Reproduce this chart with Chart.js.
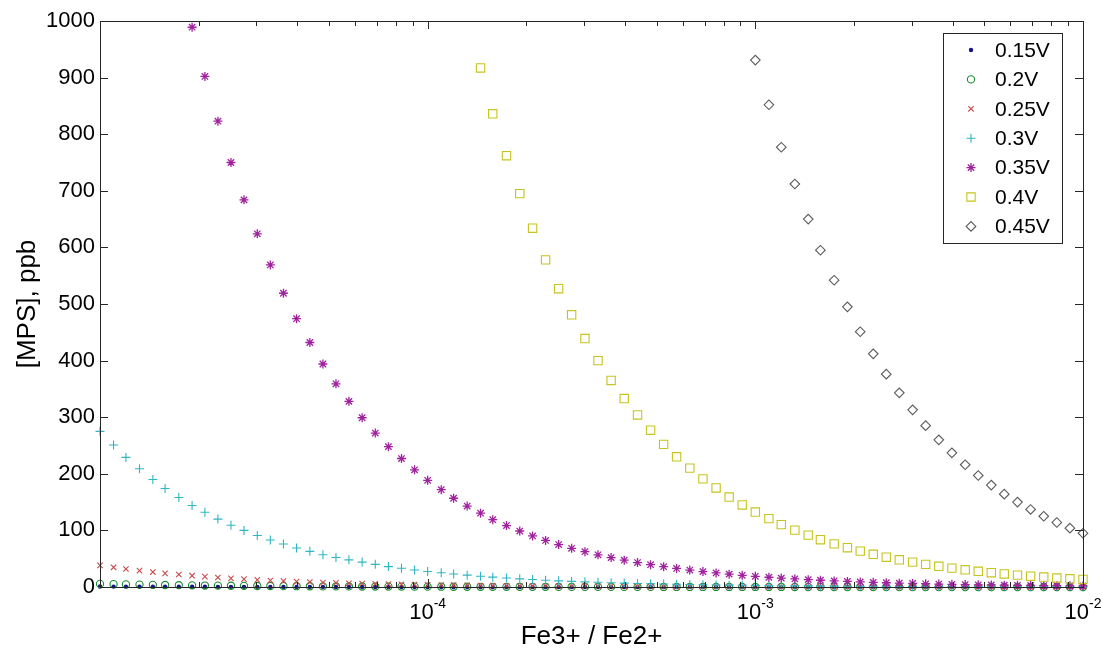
<!DOCTYPE html>
<html>
<head>
<meta charset="utf-8">
<title>[MPS] vs Fe3+ / Fe2+</title>
<script src="https://cdn.jsdelivr.net/npm/chart.js@4.4.1/dist/chart.umd.min.js"></script>
<style>
  html, body { margin: 0; padding: 0; background: #fff; }
  canvas { display: block; }
</style>
</head>
<body>
<canvas id="mpsChart" width="1102" height="652"></canvas>
<script>
// Fe3+ / Fe2+ ratio (x axis, log scale)
const ratios = [
  1.00e-5, 1.10e-5, 1.20e-5, 1.32e-5, 1.45e-5, 1.58e-5, 1.74e-5, 1.91e-5, 2.09e-5, 2.29e-5, 2.51e-5, 2.75e-5, 3.02e-5,
  3.31e-5, 3.63e-5, 3.98e-5, 4.37e-5, 4.79e-5, 5.25e-5, 5.75e-5, 6.31e-5, 6.92e-5, 7.59e-5, 8.32e-5, 9.12e-5,
  1.00e-4, 1.10e-4, 1.20e-4, 1.32e-4, 1.45e-4, 1.58e-4, 1.74e-4, 1.91e-4, 2.09e-4, 2.29e-4, 2.51e-4, 2.75e-4, 3.02e-4,
  3.31e-4, 3.63e-4, 3.98e-4, 4.37e-4, 4.79e-4, 5.25e-4, 5.75e-4, 6.31e-4, 6.92e-4, 7.59e-4, 8.32e-4, 9.12e-4,
  1.00e-3, 1.10e-3, 1.20e-3, 1.32e-3, 1.45e-3, 1.58e-3, 1.74e-3, 1.91e-3, 2.09e-3, 2.29e-3, 2.51e-3, 2.75e-3, 3.02e-3,
  3.31e-3, 3.63e-3, 3.98e-3, 4.37e-3, 4.79e-3, 5.25e-3, 5.75e-3, 6.31e-3, 6.92e-3, 7.59e-3, 8.32e-3, 9.12e-3,
  1.00e-2
];

const seriesLabels = ['0.15V', '0.2V', '0.25V', '0.3V', '0.35V', '0.4V', '0.45V'];

// [MPS] in ppb (null = above the 1000 ppb limit)
const mps015 = [
  0.8, 0.7, 0.6, 0.6, 0.5, 0.5, 0.4, 0.4, 0.4, 0.3, 0.3, 0.3, 0.3, 0.2, 0.2, 0.2, 0.2, 0.2, 0.1, 0.1, 0.1, 0.1, 0.1, 0.1, 0.1,
  0.08, 0.07, 0.06, 0.06, 0.05, 0.05, 0.04, 0.04, 0.04, 0.03, 0.03, 0.03, 0.03, 0.02, 0.02, 0.02, 0.02, 0.02, 0.01, 0.01, 0.01, 0.01, 0.01, 0.01, 0.01,
  0.01, 0.01, 0.01, 0.01, 0.01, 0, 0, 0, 0, 0, 0, 0, 0, 0, 0, 0, 0, 0, 0, 0, 0, 0, 0, 0, 0, 0
];
const mps020 = [
  5.5, 5.0, 4.6, 4.2, 3.8, 3.5, 3.2, 2.9, 2.6, 2.4, 2.2, 2.0, 1.8, 1.7, 1.5, 1.4, 1.3, 1.1, 1.0, 1.0, 0.9, 0.8, 0.7, 0.7, 0.6,
  0.55, 0.5, 0.46, 0.42, 0.38, 0.35, 0.32, 0.29, 0.26, 0.24, 0.22, 0.2, 0.18, 0.17, 0.15, 0.14, 0.13, 0.11, 0.1, 0.1, 0.09, 0.08, 0.07, 0.07, 0.06,
  0.06, 0.05, 0.05, 0.04, 0.04, 0.03, 0.03, 0.03, 0.03, 0.02, 0.02, 0.02, 0.02, 0.02, 0.02, 0.01, 0.01, 0.01, 0.01, 0.01, 0.01, 0.01, 0.01, 0.01, 0.01, 0.01
];
const mps025 = [
  38.2, 34.8, 31.8, 29.0, 26.4, 24.1, 22.0, 20.0, 18.3, 16.7, 15.2, 13.9, 12.6, 11.5, 10.5, 9.6, 8.8, 8.0, 7.3, 6.6, 6.1, 5.5, 5.0, 4.6, 4.2,
  3.8, 3.5, 3.2, 2.9, 2.6, 2.4, 2.2, 2.0, 1.8, 1.7, 1.5, 1.4, 1.3, 1.2, 1.1, 1.0, 0.9, 0.8, 0.7, 0.7, 0.6, 0.6, 0.5, 0.5, 0.4,
  0.38, 0.35, 0.32, 0.29, 0.26, 0.24, 0.22, 0.2, 0.18, 0.17, 0.15, 0.14, 0.13, 0.12, 0.11, 0.1, 0.09, 0.08, 0.07, 0.07, 0.06, 0.06, 0.05, 0.05, 0.04, 0.04
];
const mps030 = [
  275, 251, 229, 209, 190, 174, 158, 144, 132, 120, 109, 100, 91, 83, 76, 69, 63, 57, 52, 48, 44, 40, 36, 33, 30,
  27.5, 25.1, 22.9, 20.9, 19.0, 17.4, 15.8, 14.4, 13.2, 12.0, 10.9, 10.0, 9.1, 8.3, 7.6, 6.9, 6.3, 5.7, 5.2, 4.8, 4.4, 4.0, 3.6, 3.3, 3.0,
  2.8, 2.5, 2.3, 2.1, 1.9, 1.7, 1.6, 1.4, 1.3, 1.2, 1.1, 1.0, 0.9, 0.8, 0.8, 0.7, 0.6, 0.6, 0.5, 0.5, 0.4, 0.4, 0.4, 0.3, 0.3, 0.3
];
const mps035 = [
  null, null, null, null, null, null, null, 989, 902, 823, 750, 684, 624, 569, 519, 474, 432, 394, 359, 328, 299, 272, 248, 227, 207,
  188.5, 171.9, 156.8, 143.0, 130.4, 118.9, 108.5, 98.9, 90.2, 82.3, 75.0, 68.4, 62.4, 56.9, 51.9, 47.4, 43.2, 39.4, 35.9, 32.8, 29.9, 27.2, 24.8, 22.7, 20.7,
  18.9, 17.2, 15.7, 14.3, 13.0, 11.9, 10.8, 9.9, 9.0, 8.2, 7.5, 6.8, 6.2, 5.7, 5.2, 4.7, 4.3, 3.9, 3.6, 3.3, 3.0, 2.7, 2.5, 2.3, 2.1, 1.9
];
const mps040 = [
  null, null, null, null, null, null, null, null, null, null, null, null, null, null, null, null, null, null, null, null, null, null, null, null, null,
  null, null, null, null, 917, 836, 762, 695, 634, 578, 527, 481, 439, 400, 365, 333, 304, 277, 252, 230, 210, 191, 175, 159, 145,
  132.5, 120.8, 110.2, 100.5, 91.7, 83.6, 76.2, 69.5, 63.4, 57.8, 52.7, 48.1, 43.9, 40.0, 36.5, 33.3, 30.4, 27.7, 25.2, 23.0, 21.0, 19.1, 17.5, 15.9, 14.5, 13.3
];
const mps045 = [
  null, null, null, null, null, null, null, null, null, null, null, null, null, null, null, null, null, null, null, null, null, null, null, null, null,
  null, null, null, null, null, null, null, null, null, null, null, null, null, null, null, null, null, null, null, null, null, null, null, null, null,
  931, 852, 777, 712, 650, 595, 542, 495, 451, 412, 376, 343, 313, 285, 260, 237, 216, 197, 180, 164, 150, 137, 125, 114, 104, 95
];

const seriesValues = [mps015, mps020, mps025, mps030, mps035, mps040, mps045];

// axis settings
const xMin = 1e-5, xMax = 1e-2;
const xTickExponents = [-4, -3, -2];
const yMin = 0, yMax = 1000, yStep = 100;

// MATLAB style markers
const markerColors = ['#14148c', '#178a2a', '#c84a4a', '#2fb6c2', '#a0229e', '#c6c41e', '#5a5a5a'];
const markerStyles = ['circle', 'circle', 'crossRot', 'cross', 'star', 'rect', 'rectRot'];
const markerSizes = [2.2, 3.6, 3.8, 4.5, 4.5, 5.9, 4.8];

const FONT = '"Liberation Sans", Arial, Helvetica, sans-serif';
const AXIS_COLOR = '#262626';

const datasets = seriesLabels.map((label, i) => ({
    label: label,
    data: ratios.map((r, j) => ({ x: r, y: seriesValues[i][j] })),
    pointStyle: markerStyles[i],
    pointRadius: markerSizes[i],
    pointHoverRadius: markerSizes[i],
    borderColor: markerColors[i],
    backgroundColor: i === 0 ? markerColors[i] : 'rgba(0,0,0,0)',
    pointBorderWidth: i === 0 ? 0 : (i === 4 ? 1.3 : 1.1),
    showLine: false,
    clip: false,
    order: seriesLabels.length - i
}));

// box, inward ticks, x labels with exponents and the legend
const matlabFrame = {
    id: 'matlabFrame',
    afterDatasetsDraw(chart) {
        const { ctx, chartArea: a, scales: { x, y } } = chart;
        ctx.save();
        ctx.strokeStyle = AXIS_COLOR;
        ctx.lineWidth = 1;
        ctx.strokeRect(a.left + 0.5, a.top + 0.5, a.right - a.left, a.bottom - a.top);

        ctx.beginPath();
        y.ticks.forEach(t => {
            const py = Math.round(y.getPixelForValue(t.value)) + 0.5;
            ctx.moveTo(a.left, py); ctx.lineTo(a.left + 8, py);
            ctx.moveTo(a.right - 8, py); ctx.lineTo(a.right, py);
        });
        for (let d = -5; d < -2; d++) {
            for (let m = 1; m <= 9; m++) {
                const v = m * Math.pow(10, d);
                if (v <= xMin || v >= xMax) continue;
                const px = Math.round(x.getPixelForValue(v)) + 0.5;
                const len = m === 1 ? 8 : 5;
                ctx.moveTo(px, a.bottom); ctx.lineTo(px, a.bottom - len);
                ctx.moveTo(px, a.top); ctx.lineTo(px, a.top + len);
            }
        }
        ctx.stroke();
        ctx.restore();
    },
    afterDraw(chart) {
        const { ctx, chartArea: a, scales: { x } } = chart;
        ctx.save();
        ctx.fillStyle = '#000';
        ctx.textBaseline = 'alphabetic';
        ctx.textAlign = 'left';

        // x tick labels: 10 with a raised exponent
        xTickExponents.forEach(e => {
            const px = x.getPixelForValue(Math.pow(10, e));
            ctx.font = '22px ' + FONT;
            const wBase = ctx.measureText('10').width;
            ctx.font = '14px ' + FONT;
            const wExp = ctx.measureText(String(e)).width;
            const left = px - (wBase + wExp) / 2;
            ctx.font = '22px ' + FONT;
            ctx.fillText('10', left, a.bottom + 32);
            ctx.font = '14px ' + FONT;
            ctx.fillText(String(e), left + wBase, a.bottom + 21);
        });

        // legend box
        const box = { left: 943, top: 33, width: 119, height: 210 };
        ctx.fillStyle = '#fff';
        ctx.fillRect(box.left, box.top, box.width, box.height);
        ctx.strokeStyle = AXIS_COLOR;
        ctx.lineWidth = 1;
        ctx.strokeRect(box.left + 0.5, box.top + 0.5, box.width, box.height);
        ctx.font = '21px ' + FONT;
        ctx.textBaseline = 'middle';
        chart.data.datasets.forEach((ds, i) => {
            const ry = box.top + 17 + i * 29.4;
            ctx.save();
            ctx.strokeStyle = ds.borderColor;
            ctx.fillStyle = ds.backgroundColor;
            ctx.lineWidth = ds.pointBorderWidth;
            Chart.helpers.drawPoint(ctx, {
                pointStyle: ds.pointStyle,
                radius: ds.pointRadius,
                borderWidth: ds.pointBorderWidth,
                rotation: 0
            }, box.left + 28, ry);
            ctx.restore();
            ctx.fillStyle = '#000';
            ctx.fillText(ds.label, box.left + 52, ry + 1);
        });
        ctx.restore();
    }
};

new Chart(document.getElementById('mpsChart').getContext('2d'), {
    type: 'scatter',
    data: { datasets: datasets },
    options: {
        responsive: false,
        animation: false,
        events: [],
        layout: { padding: { top: 21, right: 19, left: 0, bottom: 0 } },
        plugins: {
            legend: { display: false },
            tooltip: { enabled: false }
        },
        scales: {
            x: {
                type: 'logarithmic',
                position: 'bottom',
                min: xMin,
                max: xMax,
                grid: { display: false, drawTicks: false },
                border: { display: false },
                ticks: { display: false },
                title: {
                    display: true,
                    text: 'Fe3+ / Fe2+',
                    color: '#000',
                    font: { family: FONT, size: 26 },
                    padding: { top: 0, bottom: 0 }
                },
                afterFit(scale) { scale.height = 65; }
            },
            y: {
                min: yMin,
                max: yMax,
                grid: { display: false, drawTicks: false },
                border: { display: false },
                ticks: {
                    stepSize: yStep,
                    color: '#000',
                    padding: 5,
                    font: { family: FONT, size: 22 },
                    callback: (v) => String(v)
                },
                title: {
                    display: true,
                    text: '[MPS], ppb',
                    color: '#000',
                    font: { family: FONT, size: 26 },
                    padding: { top: 12, bottom: 0 }
                },
                afterFit(scale) { scale.width = 100; }
            }
        }
    },
    plugins: [matlabFrame]
});
</script>
</body>
</html>
